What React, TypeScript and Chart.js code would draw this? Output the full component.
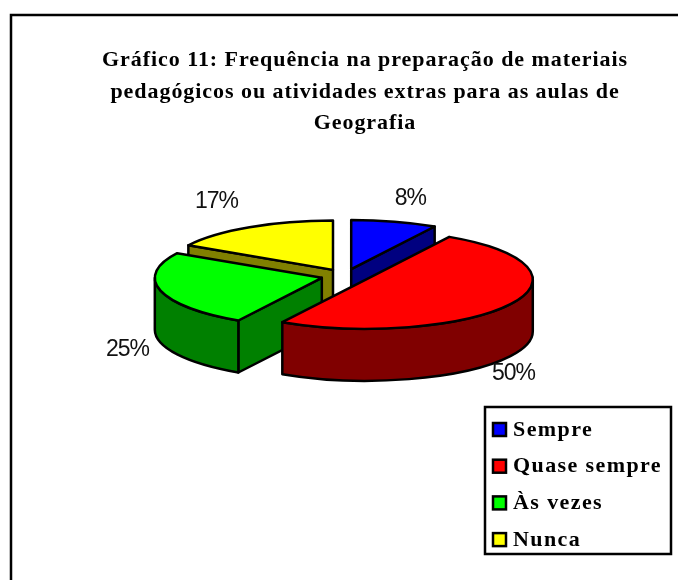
import React, { useEffect, useRef } from "react";
import { Chart, registerables } from "chart.js";

Chart.register(...registerables);

const titleLines = [
  "Gráfico 11: Frequência na preparação de materiais",
  "pedagógicos ou atividades extras para as aulas de",
  "Geografia",
];
const categories = ["Sempre", "Quase sempre", "Às vezes", "Nunca"];
const shares = [8.33, 50, 25, 16.67];
const topColors = ["#0000FF", "#FF0000", "#00FF00", "#FFFF00"];
const wallColors = ["#000080", "#800000", "#008000", "#808000"];
const explodeBy = [24, 24, 24, 24];
const labelNudges = [
  [16, -23],
  [3, 69],
  [-33, 59],
  [-33, -26],
];

const PIE_CX = 345;
const PIE_CY = 276;
const RADIUS = 167;
const TILT = 0.295;
const DEPTH = 52;
const TITLE_SPACING = "0.95px";
const LEGEND_SPACING = "1.4px";

const pie3d = {
  id: "pie3d",
  beforeDraw(chart: any) {
    const ctx = chart.ctx;
    ctx.fillStyle = "#fff";
    ctx.fillRect(0, 0, chart.width, chart.height);
    ctx.strokeStyle = "#000";
    ctx.lineWidth = 2.5;
    ctx.strokeRect(11, 15, 700, 600);
    ctx.letterSpacing = TITLE_SPACING;
  },
  beforeDatasetsDraw(chart: any) {
    const ctx = chart.ctx;
    ctx.letterSpacing = "0px";
    const arcs = chart.getDatasetMeta(0).data;
    const items = arcs.map((arc: any, i: number) => {
      const mid = (arc.startAngle + arc.endAngle) / 2;
      return {
        arc,
        i,
        s: arc.startAngle,
        e: arc.endAngle,
        mid,
        ax: PIE_CX + explodeBy[i] * Math.cos(mid),
        ay: PIE_CY + explodeBy[i] * TILT * Math.sin(mid),
      };
    });
    const ordered = [...items].sort((a: any, b: any) => a.ay - b.ay);
    const ry = RADIUS * TILT;
    ctx.save();
    ctx.lineWidth = 2.5;
    ctx.lineJoin = "round";
    ctx.strokeStyle = "#000";
    for (const it of ordered) {
      const { ax, ay, s, e, i, arc } = it;
      ctx.fillStyle = wallColors[i];
      const radial = (a: number) => {
        const px = ax + RADIUS * Math.cos(a);
        const py = ay + ry * Math.sin(a);
        ctx.beginPath();
        ctx.moveTo(ax, ay);
        ctx.lineTo(px, py);
        ctx.lineTo(px, py + DEPTH);
        ctx.lineTo(ax, ay + DEPTH);
        ctx.closePath();
        ctx.fill();
        ctx.stroke();
      };
      if (Math.cos(s) < -1e-6) radial(s);
      if (Math.cos(e) > 1e-6) radial(e);
      const a0 = Math.max(s, 0);
      const a1 = Math.min(e, Math.PI);
      if (a1 > a0) {
        ctx.beginPath();
        ctx.ellipse(ax, ay, RADIUS, ry, 0, a0, a1);
        ctx.ellipse(ax, ay + DEPTH, RADIUS, ry, 0, a1, a0, true);
        ctx.closePath();
        ctx.fill();
        ctx.stroke();
      }
      ctx.save();
      ctx.translate(ax, ay);
      ctx.scale(1, TILT);
      ctx.translate(-arc.x, -arc.y);
      arc.draw(ctx);
      ctx.restore();
      ctx.beginPath();
      ctx.moveTo(ax, ay);
      ctx.ellipse(ax, ay, RADIUS, ry, 0, s, e);
      ctx.closePath();
      ctx.stroke();
    }
    ctx.fillStyle = "#111";
    ctx.font = "23px 'Liberation Sans'";
    ctx.letterSpacing = "-1px";
    ctx.textAlign = "center";
    ctx.textBaseline = "middle";
    for (const it of items) {
      const px = it.ax + RADIUS * Math.cos(it.mid) + labelNudges[it.i][0];
      const py = it.ay + ry * Math.sin(it.mid) + labelNudges[it.i][1];
      ctx.fillText(Math.round(shares[it.i]) + "%", px, py);
    }
    ctx.letterSpacing = "0px";
    ctx.restore();
    return false;
  },
  afterDraw(chart: any) {
    const ctx = chart.ctx;
    ctx.save();
    ctx.strokeStyle = "#000";
    ctx.lineWidth = 2.5;
    ctx.strokeRect(485, 407, 186, 147);
    ctx.font = "bold 22px 'Liberation Serif'";
    ctx.letterSpacing = LEGEND_SPACING;
    ctx.textBaseline = "middle";
    ctx.textAlign = "left";
    chart.data.labels.forEach((label: string, i: number) => {
      const y = 430 + i * 36.7;
      ctx.fillStyle = topColors[i];
      ctx.fillRect(493, y - 7, 13, 13);
      ctx.strokeRect(493, y - 7, 13, 13);
      ctx.fillStyle = "#000";
      ctx.fillText(label, 513, y);
    });
    ctx.letterSpacing = "0px";
    ctx.restore();
  },
};

export default function App() {
  const ref = useRef<HTMLCanvasElement>(null);
  useEffect(() => {
    const chart = new Chart(ref.current!, {
      type: "pie",
      data: {
        labels: categories,
        datasets: [
          {
            data: shares,
            backgroundColor: topColors,
            borderWidth: 0,
          },
        ],
      },
      options: {
        responsive: false,
        animation: false,
        radius: RADIUS,
        layout: { padding: { left: 52, right: 0, top: 0, bottom: 0 } },
        plugins: {
          legend: { display: false },
          tooltip: { enabled: false },
          title: {
            display: true,
            text: titleLines,
            color: "#000",
            font: { family: "'Liberation Serif'", size: 22, weight: "bold", lineHeight: 1.42 },
            padding: { top: 45, bottom: 0 },
          },
        },
      },
      plugins: [pie3d],
    } as any);
    return () => chart.destroy();
  }, []);
  return (
    <canvas
      ref={ref}
      width={678}
      height={580}
      style={{ position: "absolute", left: 0, top: 0, display: "block" }}
    />
  );
}
